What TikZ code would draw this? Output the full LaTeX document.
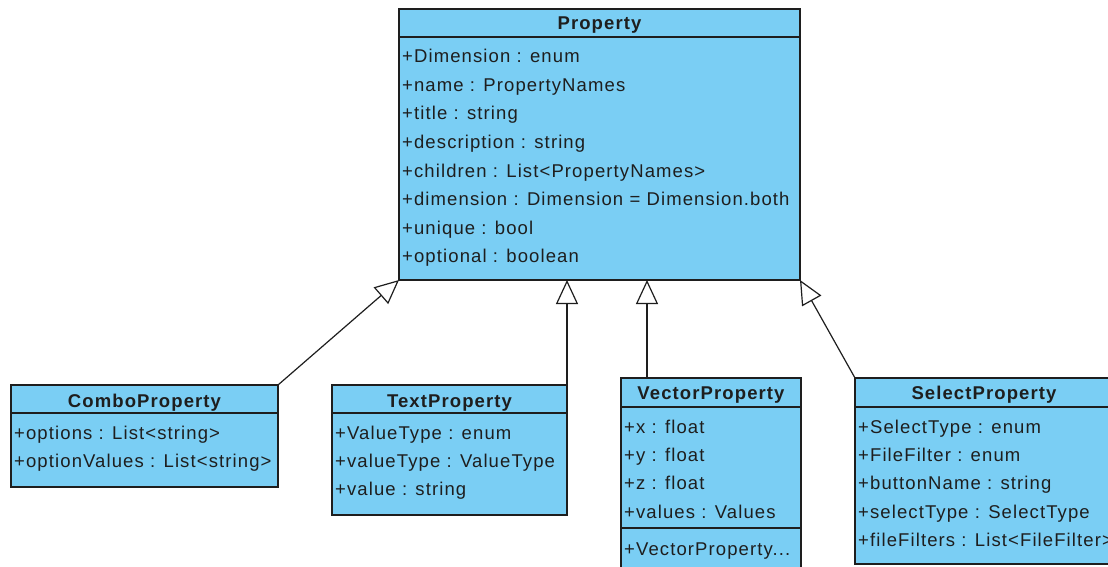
\documentclass[tikz,border=0pt]{standalone}
\usepackage{fontspec}
\setmainfont{Liberation Sans}[LetterSpace=6]
\usetikzlibrary{arrows.meta}
\definecolor{classfill}{RGB}{122,206,244}
\definecolor{ink}{RGB}{30,30,30}
\tikzset{
  classbox/.style={draw=ink, fill=classfill, line width=1.4pt, anchor=north west, inner sep=0pt, outer sep=0pt},
  divider/.style={draw=ink, line width=1.4pt},
  title/.style={font=\fontsize{18.5}{20}\selectfont\bfseries, text=ink, anchor=base, inner sep=0pt},
  attr/.style={font=\fontsize{18.5}{20}\selectfont, text=ink, anchor=base west, inner sep=0pt},
  gen/.style={draw=ink, line width=1.2pt, -{Triangle[length=24pt, width=22pt, fill=white, line width=1.2pt]}}
}
\begin{document}
\begin{tikzpicture}[x=1pt, y=-1pt]
\useasboundingbox[fill=white] (0,0) rectangle (1108,567);

% Property
\node[classbox, minimum width=401pt, minimum height=271pt] (property) at (399,9) {};
\draw[divider] (399,37) -- (800,37);
\node[title] (pt) at (599.5,30) {Property};
\node[attr] (p1) at (402,63) {+Dimension : enum};
\node[attr] (p2) at (402,91.5) {+name : PropertyNames};
\node[attr] (p3) at (402,120) {+title : string};
\node[attr] (p4) at (402,148.5) {+description : string};
\node[attr] (p5) at (402,177) {+children : List<PropertyNames>};
\node[attr] (p6) at (402,205.5) {+dimension : Dimension = Dimension.both};
\node[attr] (p7) at (402,234) {+unique : bool};
\node[attr] (p8) at (402,262.5) {+optional : boolean};

% ComboProperty
\node[classbox, minimum width=267pt, minimum height=102pt] (combo) at (11,385) {};
\draw[divider] (11,413) -- (278,413);
\node[title] (ct) at (144.5,407) {ComboProperty};
\node[attr] (c1) at (14,439) {+options : List<string>};
\node[attr] (c2) at (14,467) {+optionValues : List<string>};

% TextProperty
\node[classbox, minimum width=235pt, minimum height=130pt] (textp) at (332,385) {};
\draw[divider] (332,413) -- (567,413);
\node[title] (tt) at (449.5,407) {TextProperty};
\node[attr] (t1) at (335,439) {+ValueType : enum};
\node[attr] (t2) at (335,467) {+valueType : ValueType};
\node[attr] (t3) at (335,495) {+value : string};

% VectorProperty
\node[classbox, minimum width=180pt, minimum height=195pt] (vector) at (621,378) {};
\draw[divider] (621,407) -- (801,407);
\draw[divider] (621,528) -- (801,528);
\node[title] (vt) at (711,399) {VectorProperty};
\node[attr] (v1) at (624,433) {+x : float};
\node[attr] (v2) at (624,461) {+y : float};
\node[attr] (v3) at (624,489) {+z : float};
\node[attr] (v4) at (624,518) {+values : Values};
\node[attr] (v5) at (624,555) {+VectorProperty...};

% SelectProperty
\node[classbox, minimum width=258pt, minimum height=186pt] (select) at (855,378) {};
\draw[divider] (855,407) -- (1113,407);
\node[title] (st) at (984,399) {SelectProperty};
\node[attr] (s1) at (858,433) {+SelectType : enum};
\node[attr] (s2) at (858,461) {+FileFilter : enum};
\node[attr] (s3) at (858,489) {+buttonName : string};
\node[attr] (s4) at (858,518) {+selectType : SelectType};
\node[attr] (s5) at (858,546) {+fileFilters : List<FileFilter>};

% generalisations
\coordinate (vtop) at (647,378);
\draw[gen] (combo.north east) -- (property.south west);
\draw[gen] (textp.north east) -- (textp.north east |- property.south);
\draw[gen] (vtop) -- (vtop |- property.south);
\draw[gen] (select.north west) -- (property.south east);
\end{tikzpicture}
\end{document}
